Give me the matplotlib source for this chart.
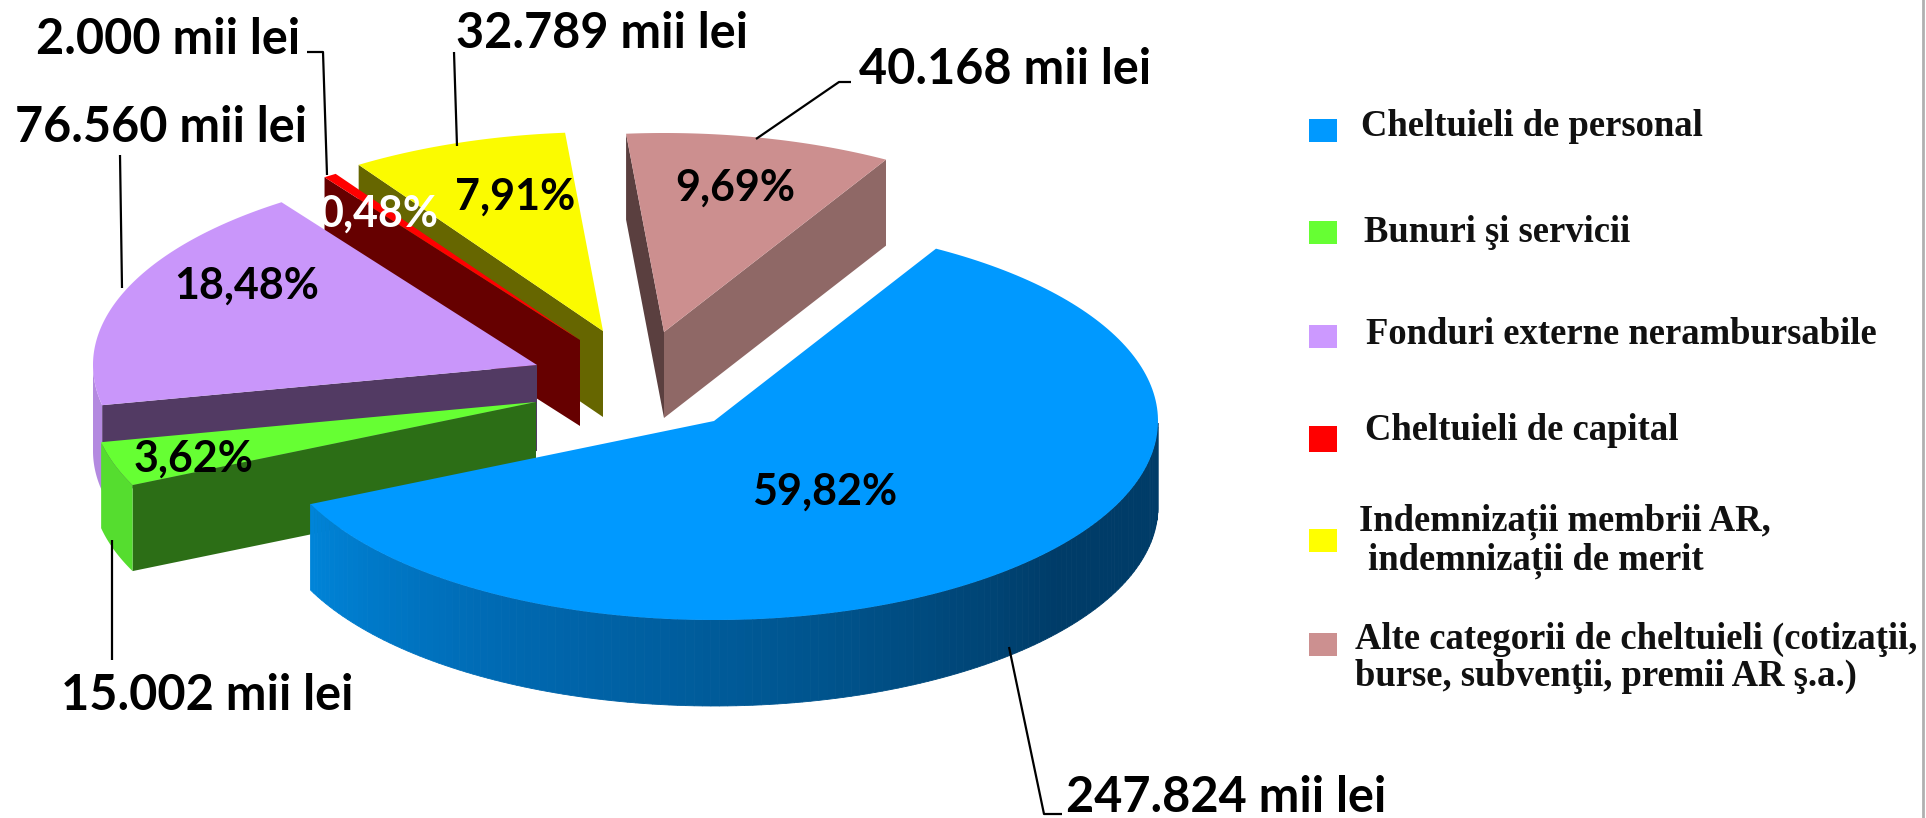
import numpy as np
import matplotlib
matplotlib.use('Agg')
import matplotlib.pyplot as plt
from matplotlib.colors import LinearSegmentedColormap
from matplotlib.patches import Polygon, Rectangle

# Data
categories = ['Cheltuieli de personal', 'Bunuri şi servicii', 'Fonduri externe nerambursabile',
              'Cheltuieli de capital', 'Indemnizații membrii AR,\n indemnizații de merit',
              'Alte categorii de cheltuieli (cotizaţii,\nburse, subvenţii, premii AR ş.a.)']
values = [247824, 15002, 76560, 2000, 32789, 40168]
pct_labels = ['59,82%', '3,62%', '18,48%', '0,48%', '7,91%', '9,69%']
amount_labels = ['247.824 mii lei', '15.002 mii lei', '76.560 mii lei',
                 '2.000 mii lei', '32.789 mii lei', '40.168 mii lei']

# Styles
top_colors = ['#0099ff', '#66ff33', '#c996fa', '#ff0000', '#fbfb00', '#cc8f8f']
legend_colors = ['#0099ff', '#66ff33', '#cc99ff', '#ff0000', '#ffff00', '#cc9090']
cut_colors = ['#004a80', '#2c6e16', '#523a63', '#660000', '#666600', '#5a3f3f']
end_cut_colors = [None, None, None, None, None, '#8f6866']
arc_colors = ['#0080d4', '#55dd2f', '#b48ae0', '#ff0000', '#fbfb00', '#cc8f8f']

# Layout, in pixels of the figure
centers = [(714, 421), (536, 402), (537, 365), (580, 340), (603, 331), (664, 332)]
RX, RY, DEPTH = 444, 199, 86
START_ANGLE = 60

fig = plt.figure(figsize=(19.26, 8.18), dpi=100)
ax = fig.add_axes([0, 0, 1, 1])
ax.set_xlim(0, 1926)
ax.set_ylim(818, 0)
ax.axis('off')

blue_side = LinearSegmentedColormap.from_list('side', ['#0084d8', '#0068b0', '#00558f', '#003c68', '#003c68'])


def ell(center, ang):
    a = np.radians(ang)
    return center[0] + RX * np.cos(a), center[1] - RY * np.sin(a)


def draw_slice(i, a1, a2):
    # a1 is the start angle, a2 < a1, going clockwise
    c = centers[i]
    angs = np.linspace(a1, a2, 200)
    x, y = ell(c, angs)

    # cut faces
    if end_cut_colors[i]:
        ax.add_patch(Polygon([c, (x[-1], y[-1]), (x[-1], y[-1] + DEPTH), (c[0], c[1] + DEPTH)],
                             fc=end_cut_colors[i], ec='none'))
    if i != 0:
        ax.add_patch(Polygon([c, (x[0], y[0]), (x[0], y[0] + DEPTH), (c[0], c[1] + DEPTH)],
                             fc=cut_colors[i], ec='none'))

    # outer wall, only where it faces the viewer
    front = np.sin(np.radians(angs)) < 0
    if front.any():
        fx, fy = x[front], y[front]
        if i == 0:
            for k in range(len(fx) - 1):
                t = 1 - (k + 0.5) / (len(fx) - 1)
                col = blue_side(t)
                ax.add_patch(Polygon([(fx[k], fy[k]), (fx[k + 1], fy[k + 1]),
                                      (fx[k + 1], fy[k + 1] + DEPTH), (fx[k], fy[k] + DEPTH)],
                                     fc=col, ec=col, lw=0.6))
        else:
            pts = list(zip(fx, fy)) + list(zip(fx[::-1], fy[::-1] + DEPTH))
            ax.add_patch(Polygon(pts, fc=arc_colors[i], ec='none'))

    # top surface
    pts = [c] + list(zip(x, y))
    ax.add_patch(Polygon(pts, fc=top_colors[i], ec='none'))


# slice angles come from the values
shares = np.array(values) / sum(values) * 360
ends = START_ANGLE - np.cumsum(shares)
starts = np.concatenate([[START_ANGLE], ends[:-1]])

# back to front
for i in [5, 4, 3, 2, 1, 0]:
    draw_slice(i, starts[i], ends[i])

# Leader lines
leaders = [
    ([1009, 1044, 1062], [647, 814, 814]),
    ([112, 112], [540, 660]),
    ([120, 122], [155, 288]),
    ([307, 323, 327], [52, 52, 175]),
    ([454, 457], [52, 146]),
    ([851, 839, 756], [82, 82, 139]),
]
for lx, ly in leaders:
    ax.plot(lx, ly, color='black', lw=1.6, solid_capstyle='butt', zorder=5)

# Amount labels
amount_pos = [(1066, 798), (61, 695), (15, 128), (36, 39), (456, 34), (859, 70)]
for (tx, ty), s in zip(amount_pos, amount_labels):
    ax.text(tx, ty, s, fontsize=35, fontweight='bold', family=['Lato', 'DejaVu Sans'],
            ha='left', va='center', color='black', zorder=6)

# Percent labels
pct_pos = [(825, 492), (194, 459), (247, 286), (379, 214), (515, 197), (735, 188)]
pct_colors = ['black', 'black', 'black', 'white', 'black', 'black']
for (tx, ty), s, col in zip(pct_pos, pct_labels, pct_colors):
    ax.text(tx, ty, s, fontsize=31, fontweight='bold', family=['Lato', 'DejaVu Sans'],
            ha='center', va='center', color=col, zorder=6)

# Legend
legend_y = [(119, 142), (221, 244), (325, 348), (426, 452), (529, 552), (633, 656)]
legend_text = [(1361, 127), (1364, 232), (1366, 335), (1365, 430), (1359, 541), (1355, 658)]
for (y0, y1), col in zip(legend_y, legend_colors):
    ax.add_patch(Rectangle((1309, y0), 28, y1 - y0, fc=col, ec='none'))
for (tx, ty), s in zip(legend_text, categories):
    ax.text(tx, ty, s, fontsize=26.4, fontweight='bold', family='Liberation Serif',
            ha='left', va='center', color='#111111', linespacing=1.1)

# Thin rule at the right edge
ax.plot([1923, 1923], [0, 818], color='#b0b0b0', lw=2)

fig.savefig('out.png', dpi=100, facecolor='white')
